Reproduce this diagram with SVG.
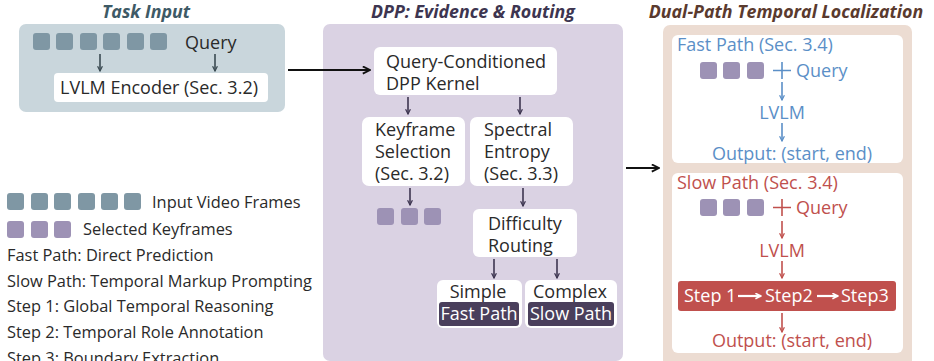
<svg xmlns="http://www.w3.org/2000/svg" width="934" height="361" viewBox="0 0 934 361">
  <defs>
    <style>
      text { font-family: "Open Sans", Lato, "Liberation Sans", sans-serif; }
      .title { font-size: 17.8px; font-weight: 700; font-style: italic; text-anchor: middle; }
      .lbl { font-size: 18px; fill: #2a2a2a; }
      .leg { font-size: 16.4px; fill: #2a2a2a; }
      .node { fill: #ffffff; }
      .frame { fill: #7f97a4; }
      .key { fill: #9d92b5; }
      .blue { fill: #5b8fc7; font-size: 18px; }
      .red { fill: #c0504d; font-size: 18px; }
      .wt { fill: #ffffff; font-size: 18px; }
    </style>
    <marker id="hdk" viewBox="0 0 10 10" refX="9" refY="5" markerWidth="9" markerHeight="9" markerUnits="userSpaceOnUse" orient="auto">
      <path d="M1,1 L9,5 L1,9" fill="none" stroke="#111" stroke-width="2"/>
    </marker>
    <marker id="hdb" viewBox="0 0 10 10" refX="9" refY="5" markerWidth="6" markerHeight="6" markerUnits="userSpaceOnUse" orient="auto">
      <path d="M1,1 L9,5 L1,9" fill="none" stroke="#5b8fc7" stroke-width="2"/>
    </marker>
    <marker id="hdr" viewBox="0 0 10 10" refX="9" refY="5" markerWidth="6" markerHeight="6" markerUnits="userSpaceOnUse" orient="auto">
      <path d="M1,1 L9,5 L1,9" fill="none" stroke="#c0504d" stroke-width="2"/>
    </marker>
    <marker id="hdw" viewBox="0 0 10 10" refX="9" refY="5" markerWidth="7" markerHeight="7" markerUnits="userSpaceOnUse" orient="auto">
      <path d="M1,1 L9,5 L1,9" fill="none" stroke="#ffffff" stroke-width="2.2"/>
    </marker>
    <marker id="hdg" viewBox="0 0 10 10" refX="9" refY="5" markerWidth="6" markerHeight="6" markerUnits="userSpaceOnUse" orient="auto">
      <path d="M1,1 L9,5 L1,9" fill="none" stroke="#3a4a52" stroke-width="2"/>
    </marker>
    <marker id="hdp" viewBox="0 0 10 10" refX="9" refY="5" markerWidth="6" markerHeight="6" markerUnits="userSpaceOnUse" orient="auto">
      <path d="M1,1 L9,5 L1,9" fill="none" stroke="#3d3550" stroke-width="2"/>
    </marker>
  </defs>

  <rect width="934" height="361" fill="#ffffff"/>

  <!-- Task Input panel -->
  <g id="task-input">
    <text class="title" x="146" y="18" fill="#3e5a66">Task Input</text>
    <rect x="19" y="24" width="266" height="88" rx="7" fill="#c9d6dc"/>
    <rect class="frame" x="33" y="33" width="17" height="17" rx="3"/>
    <rect class="frame" x="56" y="33" width="17" height="17" rx="3"/>
    <rect class="frame" x="80" y="33" width="17" height="17" rx="3"/>
    <rect class="frame" x="103" y="33" width="17" height="17" rx="3"/>
    <rect class="frame" x="127" y="33" width="17" height="17" rx="3"/>
    <rect class="frame" x="150" y="33" width="17" height="17" rx="3"/>
    <text class="lbl" x="185" y="49">Query</text>
  </g>
  <g id="lvlm-encoder">
    <rect class="node" x="54" y="73" width="214" height="29" rx="4"/>
    <text class="lbl" x="159" y="94" text-anchor="middle">LVLM Encoder (Sec. 3.2)</text>
  </g>

  <!-- DPP panel -->
  <g id="dpp-panel">
    <text class="title" x="473" y="18" fill="#3d3550">DPP: Evidence &amp; Routing</text>
    <rect x="323" y="24" width="300" height="337" rx="7" fill="#dad2e3"/>
  </g>
  <g id="dpp-kernel">
    <rect class="node" x="374" y="47" width="183" height="48" rx="6"/>
    <text class="lbl" x="386" y="68">Query-Conditioned</text>
    <text class="lbl" x="386" y="90">DPP Kernel</text>
  </g>
  <g id="keyframe-selection">
    <rect class="node" x="362" y="117" width="103" height="69" rx="7"/>
    <text class="lbl" x="375" y="136">Keyframe</text>
    <text class="lbl" x="375" y="158">Selection</text>
    <text class="lbl" x="375" y="180">(Sec. 3.2)</text>
  </g>
  <g id="spectral-entropy">
    <rect class="node" x="470" y="117" width="103" height="69" rx="7"/>
    <text class="lbl" x="484" y="136">Spectral</text>
    <text class="lbl" x="484" y="158">Entropy</text>
    <text class="lbl" x="484" y="180">(Sec. 3.3)</text>
  </g>
  <g id="selected-keyframes">
    <rect class="key" x="377" y="208" width="17" height="17" rx="3"/>
    <rect class="key" x="401" y="208" width="17" height="17" rx="3"/>
    <rect class="key" x="424" y="208" width="17" height="17" rx="3"/>
  </g>
  <g id="difficulty-routing">
    <rect class="node" x="473" y="209" width="104" height="48" rx="6"/>
    <text class="lbl" x="488" y="230">Difficulty</text>
    <text class="lbl" x="488" y="252">Routing</text>
  </g>
  <g id="simple">
    <rect class="node" x="437" y="280" width="85" height="48" rx="6"/>
    <text class="lbl" x="478" y="298" text-anchor="middle">Simple</text>
    <rect x="439" y="302" width="80" height="24" rx="3" fill="#4a3f5c"/>
    <text class="wt" x="479" y="320" text-anchor="middle">Fast Path</text>
  </g>
  <g id="complex">
    <rect class="node" x="525" y="280" width="92" height="48" rx="6"/>
    <text class="lbl" x="570" y="298" text-anchor="middle">Complex</text>
    <rect x="528" y="302" width="86" height="24" rx="3" fill="#4a3f5c"/>
    <text class="wt" x="571" y="320" text-anchor="middle">Slow Path</text>
  </g>

  <!-- Dual-path panel -->
  <g id="dual-path-panel">
    <text class="title" x="786" y="18" fill="#5a3a2e">Dual-Path Temporal Localization</text>
    <rect x="663" y="25" width="249" height="345" rx="7" fill="#ecdcd2"/>
  </g>
  <g id="fast-path">
    <rect class="node" x="672" y="35" width="231" height="128" rx="6"/>
    <text class="blue" x="677" y="51">Fast Path (Sec. 3.4)</text>
    <rect class="key" x="700" y="62" width="17" height="17" rx="3"/>
    <rect class="key" x="723" y="62" width="17" height="17" rx="3"/>
    <rect class="key" x="747" y="62" width="17" height="17" rx="3"/>
    <path d="M773,70.5 H791 M782,62 V79" stroke="#5b8fc7" stroke-width="1.6"/>
    <text class="blue" x="796" y="77">Query</text>
    <text class="blue" x="782" y="119" text-anchor="middle">LVLM</text>
    <text class="blue" x="792" y="160" text-anchor="middle">Output: (start, end)</text>
  </g>
  <g id="slow-path">
    <rect class="node" x="672" y="173" width="231" height="180" rx="6"/>
    <text class="red" x="677" y="189">Slow Path (Sec. 3.4)</text>
    <rect class="key" x="700" y="199" width="17" height="17" rx="3"/>
    <rect class="key" x="723" y="199" width="17" height="17" rx="3"/>
    <rect class="key" x="747" y="199" width="17" height="17" rx="3"/>
    <path d="M773,207.5 H791 M782,199 V216" stroke="#c0504d" stroke-width="1.6"/>
    <text class="red" x="796" y="214">Query</text>
    <text class="red" x="782" y="257" text-anchor="middle">LVLM</text>
    <rect x="678" y="281" width="218" height="30" rx="3" fill="#c0504d"/>
    <text class="wt" x="684" y="302">Step 1</text>
    <text class="wt" x="765" y="302">Step2</text>
    <text class="wt" x="841" y="302">Step3</text>
    <text class="red" x="792" y="347" text-anchor="middle">Output: (start, end)</text>
  </g>

  <!-- Legend -->
  <g id="legend">
    <rect class="frame" x="7" y="193" width="17" height="17" rx="3"/>
    <rect class="frame" x="31" y="193" width="17" height="17" rx="3"/>
    <rect class="frame" x="54" y="193" width="17" height="17" rx="3"/>
    <rect class="frame" x="78" y="193" width="17" height="17" rx="3"/>
    <rect class="frame" x="101" y="193" width="17" height="17" rx="3"/>
    <rect class="frame" x="124" y="193" width="17" height="17" rx="3"/>
    <text class="leg" x="152" y="208">Input Video Frames</text>
    <rect class="key" x="7" y="221" width="17" height="17" rx="3"/>
    <rect class="key" x="31" y="221" width="17" height="17" rx="3"/>
    <rect class="key" x="54" y="221" width="17" height="17" rx="3"/>
    <text class="leg" x="83" y="235">Selected Keyframes</text>
    <text class="leg" x="7" y="261">Fast Path: Direct Prediction</text>
    <text class="leg" x="7" y="287">Slow Path: Temporal Markup Prompting</text>
    <text class="leg" x="7" y="312">Step 1: Global Temporal Reasoning</text>
    <text class="leg" x="7" y="338">Step 2: Temporal Role Annotation</text>
    <text class="leg" x="7" y="364">Step 3: Boundary Extraction</text>
  </g>

  <!-- Connectors -->
  <g id="connectors" fill="none" stroke-width="1.6">
    <path d="M100,54 V71" stroke="#3a4a52" marker-end="url(#hdg)"/>
    <path d="M215,54 V71" stroke="#3a4a52" marker-end="url(#hdg)"/>
    <path d="M288,70 H370" stroke="#111" stroke-width="2" marker-end="url(#hdk)"/>
    <path d="M408,97 V114" stroke="#3d3550" marker-end="url(#hdp)"/>
    <path d="M520,97 V114" stroke="#3d3550" marker-end="url(#hdp)"/>
    <path d="M410,188 V205" stroke="#3d3550" marker-end="url(#hdp)"/>
    <path d="M523,188 V206" stroke="#3d3550" marker-end="url(#hdp)"/>
    <path d="M494,259 V278" stroke="#3d3550" marker-end="url(#hdp)"/>
    <path d="M557,259 V278" stroke="#3d3550" marker-end="url(#hdp)"/>
    <path d="M626,168 H659" stroke="#111" stroke-width="2" marker-end="url(#hdk)"/>
    <path d="M782,82 V100" stroke="#5b8fc7" marker-end="url(#hdb)"/>
    <path d="M782,123 V141" stroke="#5b8fc7" marker-end="url(#hdb)"/>
    <path d="M782,221 V238" stroke="#c0504d" marker-end="url(#hdr)"/>
    <path d="M782,261 V278" stroke="#c0504d" marker-end="url(#hdr)"/>
    <path d="M782,313 V332" stroke="#c0504d" marker-end="url(#hdr)"/>
    <path d="M738,296 H761" stroke="#ffffff" stroke-width="2.2" marker-end="url(#hdw)"/>
    <path d="M817,296 H838" stroke="#ffffff" stroke-width="2.2" marker-end="url(#hdw)"/>
  </g>
</svg>
